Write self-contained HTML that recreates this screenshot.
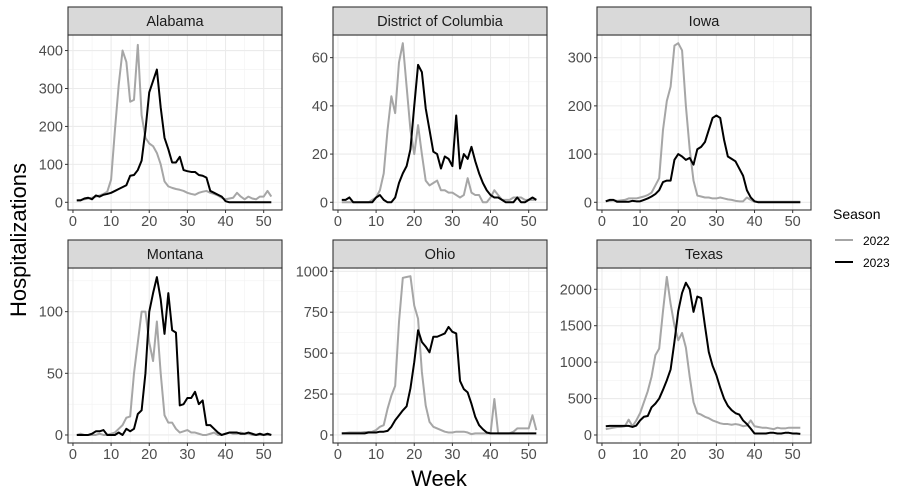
<!DOCTYPE html>
<html><head><meta charset="utf-8">
<style>
html,body{margin:0;padding:0;background:#fff;}
svg{display:block;font-family:"Liberation Sans",Arial,sans-serif;}
</style></head>
<body>
<svg id="chart" width="904" height="498" viewBox="0 0 904 498" xmlns="http://www.w3.org/2000/svg"></svg>
<script>
// ---- data ----
const weeks = Array.from({length:52},(_,i)=>i+1);
const seasons = ["2022","2023"];
const xTicks = [0,10,20,30,40,50];
const panelNames = ["Alabama","District of Columbia","Iowa","Montana","Ohio","Texas"];
const alabama2022 = [5,6,8,10,12,15,18,22,28,60,190,310,400,370,265,270,415,230,170,155,148,130,100,55,42,38,35,33,30,25,22,20,25,28,30,25,22,18,12,8,10,12,25,15,8,15,10,8,15,15,30,15];
const alabama2023 = [5,5,10,12,8,18,15,20,22,25,30,35,40,45,70,72,85,110,190,290,320,350,250,170,140,105,105,120,85,82,80,80,72,70,65,30,25,20,15,3,0,0,0,0,0,0,0,0,0,0,0,0];
const dc2022 = [0,0,0,0,0,0,0,0,1,2,5,12,30,44,37,58,66,48,30,20,32,20,9,7,8,9,5,5,4,4,3,2,3,10,4,3,3,0,0,2,5,3,1,1,1,2,2,2,1,1,1,1];
const dc2023 = [1,1,2,0,0,0,0,0,0,2,3,1,0,0,2,8,12,15,22,40,57,54,39,30,21,20,14,19,18,15,36,14,20,18,23,17,12,8,5,3,2,2,1,0,0,0,2,0,0,1,2,1];
const iowa2022 = [2,3,4,3,4,5,8,8,8,10,12,15,20,35,50,150,210,240,325,330,315,200,110,45,14,12,10,10,8,8,10,8,6,5,3,2,2,10,5,1,1,1,1,1,1,1,1,1,1,1,1,1];
const iowa2023 = [2,5,5,1,1,1,1,3,2,2,5,8,12,17,25,42,45,45,88,100,95,88,92,78,110,115,125,150,175,180,175,130,95,90,85,70,55,25,10,2,0,0,0,0,0,0,0,0,0,0,0,0];
const montana2022 = [0,1,0,0,0,0,1,0,0,1,2,5,8,14,15,50,75,100,100,75,60,92,50,16,10,10,5,2,3,4,2,2,1,0,0,1,2,0,0,1,2,1,1,2,1,1,0,0,0,0,0,0];
const montana2023 = [0,0,0,0,1,3,3,4,0,0,0,2,0,5,3,5,17,20,50,100,115,128,110,82,115,85,83,24,25,30,30,35,25,28,8,8,5,2,0,1,2,2,2,1,1,2,1,0,1,0,1,0];
const ohio2022 = [10,12,15,15,15,15,18,18,20,30,50,60,160,240,300,690,960,965,970,790,710,385,180,80,50,40,30,20,15,15,20,20,20,15,5,10,10,10,10,10,220,10,10,10,10,20,40,40,40,40,120,30];
const ohio2023 = [10,10,10,10,10,10,10,15,15,15,20,20,25,50,90,120,150,175,285,445,640,568,540,505,600,600,610,620,660,630,620,330,280,260,190,110,60,35,15,10,10,10,10,10,10,10,10,10,10,10,10,10];
const texas2022 = [80,90,100,110,110,120,210,120,200,300,450,600,800,1094,1185,1700,2170,1800,1500,1300,1400,1200,800,450,300,280,250,230,200,180,160,150,150,140,150,140,120,130,200,120,110,100,100,90,80,100,90,90,100,100,100,100];
const texas2023 = [120,125,125,125,125,125,125,110,130,200,250,260,380,430,500,620,750,900,1280,1700,1950,2090,2000,1690,1900,1880,1500,1140,950,820,650,500,400,340,300,280,200,150,87,20,20,20,20,30,30,20,20,30,30,20,20,15];
const alabamaTicks = [0,100,200,300,400];
const dcTicks = [0,20,40,60];
const iowaTicks = [0,100,200,300];
const montanaTicks = [0,50,100];
const ohioTicks = [0,250,500,750,1000];
const texasTicks = [0,500,1000,1500,2000];
const yDomains = [[-20.3,441],[-3.2,69.4],[-16,347],[-6.5,135.4],[-49,1020],[-110,2292]];
const seriesByPanel = [[alabama2022,alabama2023],[dc2022,dc2023],[iowa2022,iowa2023],[montana2022,montana2023],[ohio2022,ohio2023],[texas2022,texas2023]];
const ticksByPanel = [alabamaTicks,dcTicks,iowaTicks,montanaTicks,ohioTicks,texasTicks];

// ---- layout ----
const NS="http://www.w3.org/2000/svg";
const svg=document.getElementById('chart');
const colLeft=[68,333,597], pw=214;
const rowTop=[35,268], ph=175, stripH=28;
const xDom=[-1.3,54.8];
const colors=["#a6a6a6","#000000"];
function mk(tag,attrs,parent){const e=document.createElementNS(NS,tag);for(const k in attrs)e.setAttribute(k,attrs[k]);(parent||svg).appendChild(e);return e;}

panelNames.forEach((name,p)=>{
  const L=colLeft[p%3], T=rowTop[Math.floor(p/3)];
  const yd=yDomains[p];
  const xs=v=>L+(v-xDom[0])/(xDom[1]-xDom[0])*pw;
  const ys=v=>T+ph-(v-yd[0])/(yd[1]-yd[0])*ph;
  const g=mk('g',{});
  
  
  // grid minor
  const ticks=ticksByPanel[p], step=ticks[1]-ticks[0];
  for(let i=0;i<ticks.length+1;i++){const v=ticks[0]+step*(i+0.5)-step;const y=ys(v);if(y>T&&y<T+ph)mk('line',{x1:L,x2:L+pw,y1:y,y2:y,stroke:'#f2f2f2','stroke-width':0.6},g);}
  for(let i=0;i<xTicks.length;i++){const v=xTicks[i]+5;const x=xs(v);if(x>L&&x<L+pw)mk('line',{x1:x,x2:x,y1:T,y2:T+ph,stroke:'#f2f2f2','stroke-width':0.6},g);}
  // major
  ticks.forEach(v=>{const y=ys(v);mk('line',{x1:L,x2:L+pw,y1:y,y2:y,stroke:'#ebebeb','stroke-width':1.1},g);
    mk('line',{x1:L-3,x2:L,y1:y,y2:y,stroke:'#333','stroke-width':1},g);
    const t=mk('text',{x:L-5,y:y+5,'text-anchor':'end','font-size':14.5,fill:'#4d4d4d'},g);t.textContent=v;
    
    });
  xTicks.forEach(v=>{const x=xs(v);mk('line',{x1:x,x2:x,y1:T,y2:T+ph,stroke:'#ebebeb','stroke-width':1.1},g);
    mk('line',{x1:x,x2:x,y1:T+ph,y2:T+ph+3,stroke:'#333','stroke-width':1},g);
    const t=mk('text',{x:x,y:T+ph+16,'text-anchor':'middle','font-size':14.5,fill:'#4d4d4d'},g);t.textContent=v;
    
    });
  // series
  seriesByPanel[p].forEach((arr,s)=>{
    const d=arr.map((v,i)=>(i?'L':'M')+xs(weeks[i]).toFixed(2)+','+ys(v).toFixed(2)).join('');
    const path=mk('path',{d:d,fill:'none',stroke:colors[s],'stroke-width':2,'stroke-linejoin':'round'},g);
    
    
  });
  mk('rect',{x:L,y:T,width:pw,height:ph,fill:'none',stroke:'#333','stroke-width':1.1},g);
  // strip
  const sr=mk('rect',{x:L,y:T-stripH,width:pw,height:stripH,fill:'#d9d9d9',stroke:'#333','stroke-width':1.1},g);
  
  
  const st=mk('text',{x:L+pw/2,y:T-9,'text-anchor':'middle','font-size':14.5,fill:'#1a1a1a'},g);st.textContent=name;
  
  
});
</script>
<svg style="position:absolute;left:0;top:0" width="904" height="498" xmlns="http://www.w3.org/2000/svg">
  <text x="26" y="240" transform="rotate(-90 26 240)" text-anchor="middle" font-size="22" fill="#000" font-family="Liberation Sans, sans-serif">Hospitalizations</text>
  <text x="439" y="486" text-anchor="middle" font-size="22" fill="#000" font-family="Liberation Sans, sans-serif">Week</text>
  <g font-family="Liberation Sans, sans-serif">
    <text x="833" y="219" font-size="14" fill="#000">Season</text>
    <line x1="835" x2="853" y1="240" y2="240" stroke="#a6a6a6" stroke-width="2"/>
    <text x="863" y="245" font-size="12" fill="#000">2022</text>
    <line x1="835" x2="853" y1="262" y2="262" stroke="#000" stroke-width="2"/>
    <text x="863" y="267" font-size="12" fill="#000">2023</text>
  </g>
</svg>
</body></html>
